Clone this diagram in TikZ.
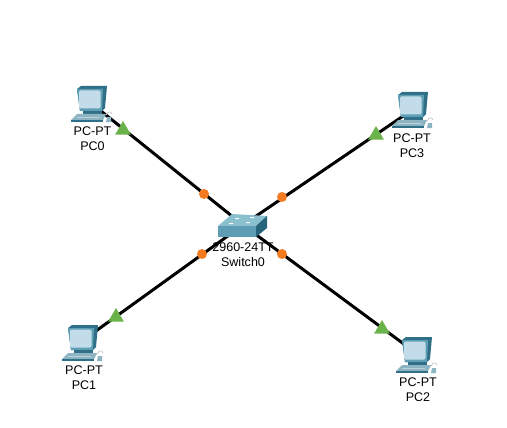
\documentclass[tikz,border=0pt]{standalone}
\usepackage{fontspec}
\setmainfont{Liberation Sans}
\usepackage{xcolor}
\usetikzlibrary{positioning,shapes.geometric}
\definecolor{pcteal}{HTML}{5F9FB5}
\definecolor{pcdark}{HTML}{2F7088}
\definecolor{pcscreen}{HTML}{C2DDE9}
\definecolor{pcbase}{HTML}{8DB4C2}
\definecolor{swtop}{HTML}{8ABFCE}
\definecolor{swfront}{HTML}{5E9DB4}
\definecolor{swside}{HTML}{27637A}
\definecolor{portup}{HTML}{6AB24A}
\definecolor{portorange}{HTML}{F47B20}
\tikzset{
  link/.style={line width=2.25pt, black},
  upmark/.style={regular polygon, regular polygon sides=3, fill=portup, minimum size=13.5pt, inner sep=0pt},
  orangemark/.style={circle, fill=portorange, minimum size=7.5pt, inner sep=0pt},
  devlabel/.style={align=center, font=\fontsize{9.4}{11.6}\selectfont, inner sep=0pt},
  pcicon/.pic={
    \fill[pcdark] (-14,-14) -- (-10,-17) -- (16,-17) -- (14,5) -- (11,8) -- (-11,8) -- cycle;
    \fill[pcteal] (-14,-14) -- (12,-14) -- (11,8) -- (-11,8) -- cycle;
    \fill[pcscreen, rounded corners=1pt] (-12,-12.5) rectangle (9.5,5.5);
    \fill[pcdark] (-8,8) rectangle (11,11);
    \fill[pcbase] (-20,17) -- (-14,11) -- (15,11) -- (12,17) -- cycle;
    \fill[pcdark] (-20,17) rectangle (12,19);
    \draw[pcbase!60, line width=.4pt] (-14,14) -- (9,14);
    \draw[gray!45, line width=.5pt] (15,12) .. controls (17,8) and (20,8) .. (21,11);
    \fill[pcbase] (16,14) -- (20,14) -- (20,19) -- (15,19) -- cycle;
  },
  switchicon/.pic={
    \fill[swtop] (-25,1) -- (-11,-11) -- (24,-9) -- (13,1) -- cycle;
    \fill[swfront] (-25,1) rectangle (13,12);
    \fill[swside] (13,1) -- (24,-9) -- (24,3) -- (13,12) -- cycle;
    \fill[white] (-8,-7) rectangle (-4,-6) (7,-8) rectangle (11,-7) (-14,-2) rectangle (-10,-1) (3,-3) rectangle (7,-2);
  },
}
\begin{document}
\begin{tikzpicture}[x=.75pt, y=-.75pt]
\useasboundingbox (0,0) rectangle (507,428);
\fill[white] (0,0) rectangle (507,428);
\coordinate (sw0) at (243,225);
\coordinate (pc0) at (91,103);
\coordinate (pc1) at (82,341);
\coordinate (pc2) at (416,353);
\coordinate (pc3) at (412,110);
\draw[link] (sw0) -- (pc0);
\draw[link] (sw0) -- (pc1);
\draw[link] (sw0) -- (pc2);
\draw[link] (sw0) -- (pc3);
\pic at (pc0) {pcicon};
\pic at (82,342) {pcicon};
\pic at (416,354) {pcicon};
\pic at (412,109) {pcicon};
\pic at (sw0) {switchicon};
\node[upmark] (up0) at (123,130) {};
\node[upmark] (up1) at (116,317) {};
\node[upmark] (up2) at (382,329) {};
\node[upmark] (up3) at (376,135) {};
\node[orangemark] (dot0) at (204,194) {};
\node[orangemark] (dot1) at (202,254) {};
\node[orangemark] (dot2) at (282,254) {};
\node[orangemark] (dot3) at (282,197) {};
\node[devlabel] (pc0lbl) at (92.5,138.5) {PC-PT\\PC0};
\node[devlabel] (pc1lbl) at (84,377.5) {PC-PT\\PC1};
\node[devlabel] (pc2lbl) at (418,389.5) {PC-PT\\PC2};
\node[devlabel] (pc3lbl) at (412,145.5) {PC-PT\\PC3};
\node[devlabel] (sw0lbl) at (243,254.5) {2960-24TT\\Switch0};
\end{tikzpicture}
\end{document}
